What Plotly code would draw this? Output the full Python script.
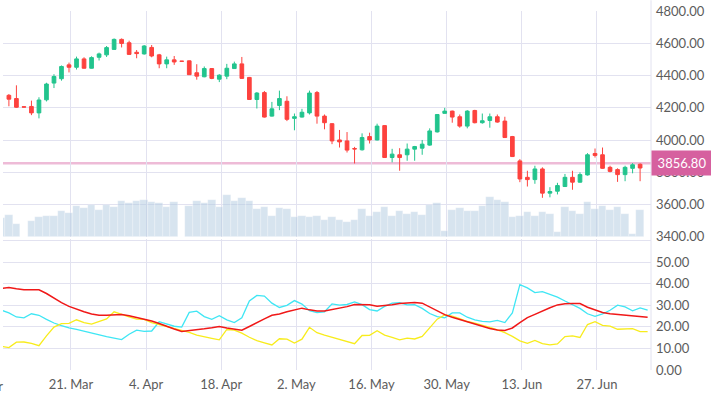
import numpy as np
import pandas as pd
import plotly.graph_objects as go

# ---------------- data ----------------
dates = pd.bdate_range("2022-03-08", "2022-07-06")          # trading-day grid
pos = np.arange(len(dates)) - 1                              # -1 .. 85

open_ = [4278,4258,4207,4209,4169,4250,4354,4381,4467,4452, 4504,4446,4514,4529,4563,4625,4604,4545,4535,4575,
         4529,4473,4498,4490,4492,4418,4393,4444,4378,4397, 4444,4473,4389,4252,4295,4149,4215,4241,4135,4143,
         4169,4295,4149,4102,4001,3995,3948,3940,4022,4001, 4090,3892,3909,3909,3944,3950,3969,4051,4166,4180,
         4145,4087,4184,4108,4122,4145,4118,4022,3871,3769, 3755,3821,3671,3683,3712,3769,3739,3784,3917,3909,
         3831,3817,3786,3825,3850]
high = [4286,4340,4208,4245,4266,4356,4409,4463,4481,4518, 4514,4520,4543,4584,4631,4631,4617,4559,4590,4590,
        4535,4518,4522,4491,4494,4471,4457,4447,4409,4473, 4487,4516,4392,4298,4305,4237,4307,4272,4165,4194,
        4307,4305,4159,4105,4063,4050,3958,4042,4046,4102, 4092,3946,3950,3979,3964,4001,4073,4161,4200,4183,
        4159,4186,4188,4165,4165,4159,4145,4026,3882,3810, 3841,3831,3708,3735,3790,3810,3800,3919,3948,3954,
        3841,3825,3841,3857,3856]
low = [4210,4200,4204,4155,4135,4240,4323,4369,4420,4438, 4444,4444,4494,4516,4560,4575,4529,4508,4530,4514,
       4446,4446,4467,4488,4404,4375,4390,4378,4360,4378, 4442,4380,4250,4196,4140,4146,4186,4118,4061,4140,
       4159,4102,4067,3975,3954,3923,3855,3935,3979,3998, 3889,3862,3810,3872,3872,3909,3965,4047,4165,4108,
       4077,4073,4104,4102,4077,4108,4013,3895,3739,3712, 3729,3642,3645,3663,3710,3692,3736,3780,3892,3822,
       3800,3741,3745,3794,3745]
close = [4254,4204,4205,4169,4249,4348,4395,4457,4452,4504, 4446,4512,4535,4574,4625,4600,4532,4537,4584,4522,
         4473,4498,4485,4489,4406,4397,4444,4383,4403,4446, 4473,4383,4252,4292,4143,4194,4258,4129,4145,4173,
         4292,4149,4108,3995,3989,3938,3945,4016,4001,4087, 3892,3913,3892,3944,3960,3975,4057,4159,4180,4143,
         4087,4180,4108,4120,4145,4112,4016,3898,3759,3755, 3821,3671,3681,3718,3769,3739,3786,3909,3905,3825,
         3806,3786,3831,3847,3827]

volume = [1680,2010,1200,None,1410,1800,1920,1920,2310,2130, 2790,2610,2880,2400,2880,2670,3210,3060,3210,3300,
          3120,3030,2670,3120,None,2820,3210,3030,3300,2670, 3840,3210,3540,3210,2490,2670,1890,2610,2490,1800,
          1920,1800,1920,1500,1800,1500,1380,1500,2490,1890, 2220,2700,1890,2310,2100,2220,2010,2910,3030,510,
          2400,2610,2310,2310,2790,3630,3300,3120,1800,1920, 2220,1920,2220,2100,420,2700,2310,2100,3120,2490,
          2790,2400,2700,2100,300,2400]

adx = [37.8,38.3,37.7,37.2,37.2,37.2,35.5,33.2,31.3,29.5, 28.2,27.0,26.0,25.4,25.4,25.4,25.7,25.2,24.4,23.7,
       22.7,21.6,20.2,19.0,17.9,18.2,18.6,19.1,19.6,20.2, 19.5,18.9,18.5,20.2,21.8,23.7,25.4,26.0,27.0,27.9,
       28.7,27.9,27.4,27.4,28.0,28.6,29.4,30.4,30.5,30.3, 29.6,29.8,30.3,30.8,31.2,31.3,31.0,29.2,27.4,25.7,
       24.5,23.4,22.2,21.3,20.3,19.3,18.6,18.3,19.5,22.0, 24.3,25.8,27.5,28.9,30.2,30.7,30.8,30.8,29.1,27.8,
       26.7,26.1,25.8,25.5,25.1,24.7,24.5]
plus_di = [27.8,26.5,24.6,24.2,26.1,25.4,23.5,21.8,20.6,19.5, 18.9,18.0,17.0,16.2,15.5,14.8,14.1,16.6,18.5,17.9,
           18.1,22.4,21.2,20.3,19.9,26.7,27.3,24.8,23.5,25.2, 23.3,22.0,24.2,32.0,34.6,34.3,31.0,29.0,30.0,32.2,
           30.6,27.5,26.6,27.0,30.7,30.1,30.4,31.6,30.3,28.0, 27.4,29.5,31.0,31.2,30.2,30.3,28.6,26.2,24.8,24.2,
           26.5,26.5,24.5,23.3,22.6,22.3,23.0,22.0,26.5,39.6, 38.1,35.9,36.4,35.1,33.8,32.0,30.2,28.6,26.1,24.9,
           26.0,27.7,30.1,29.3,27.5,28.8,27.8]
minus_di = [11.0,10.4,12.9,13.0,12.4,11.3,15.8,19.9,21.5,21.6, 23.3,22.0,21.3,22.4,23.7,27.0,26.0,24.7,23.6,23.5,
            22.0,21.1,20.2,19.4,18.5,17.4,16.2,15.3,14.7,14.0, 18.8,18.5,17.1,15.2,13.6,12.6,11.6,14.5,14.3,12.5,
            14.3,19.8,17.3,16.2,15.2,14.0,13.0,12.2,16.0,16.1, 18.2,16.2,15.1,14.0,14.8,14.4,15.6,19.5,23.6,25.6,
            25.0,23.8,22.5,21.7,20.8,19.8,18.6,17.3,15.6,13.5, 12.4,13.7,12.2,11.7,12.1,15.5,15.8,15.1,21.1,22.4,
            20.7,20.4,18.9,18.9,19.2,17.8,17.8]

last_price = 3856.80

tick_dates = ["2022-03-21", "2022-04-04", "2022-04-18", "2022-05-02",
              "2022-05-16", "2022-05-30", "2022-06-13", "2022-06-27"]
tick_labels = ["21. Mar", "4. Apr", "18. Apr", "2. May", "16. May", "30. May", "13. Jun", "27. Jun"]
first_label = "7. Mar"

price_ticks = [3400, 3600, 3800, 4000, 4200, 4400, 4600, 4800]
ind_ticks = [0, 10, 20, 30, 40, 50, 60]

# ---------------- positions ----------------
candle_x = pos[1:1 + len(close)]
vol_x = pos[:len(volume)]
ind_x = pos[:len(adx)]
TICK_SHIFT = 0.26
tickvals = [float(pos[dates.get_loc(pd.Timestamp(d))]) + TICK_SHIFT for d in tick_dates]

GRID = "#e2e2f0"
LABEL = "#5c5c5c"
FONT = "Lato"
XR = [-0.785, 85.45]

fig = go.Figure()
fig.add_trace(go.Bar(x=vol_x, y=volume, xaxis="x", yaxis="y", width=1.0,
                     marker=dict(color="rgba(176,201,224,0.5)",
                                 line=dict(color="rgba(255,255,255,0.5)", width=0.5)),
                     hoverinfo="skip"))
fig.add_trace(go.Candlestick(x=candle_x, open=open_, high=high, low=low, close=close,
                             xaxis="x", yaxis="y3", whiskerwidth=0,
                             increasing=dict(line=dict(color="#22c48d", width=1), fillcolor="#22c48d"),
                             decreasing=dict(line=dict(color="#fd423e", width=1), fillcolor="#fd423e")))
fig.add_trace(go.Scatter(x=ind_x, y=plus_di, xaxis="x2", yaxis="y2", mode="lines",
                         line=dict(color="#3fe6f4", width=1.3)))
fig.add_trace(go.Scatter(x=ind_x, y=minus_di, xaxis="x2", yaxis="y2", mode="lines",
                         line=dict(color="#f8ec1c", width=1.3)))
fig.add_trace(go.Scatter(x=ind_x, y=adx, xaxis="x2", yaxis="y2", mode="lines",
                         line=dict(color="#f01818", width=1.5)))

axis_font = dict(family=FONT, size=13, color=LABEL)
fig.update_layout(
    width=711, height=395,
    margin=dict(l=3, r=60, t=9, b=24),
    paper_bgcolor="white", plot_bgcolor="white",
    showlegend=False,
    bargap=0,
    xaxis=dict(domain=[0, 1], anchor="y", range=XR, tickvals=tickvals, showticklabels=False,
               showgrid=True, gridcolor=GRID, gridwidth=1, zeroline=False, ticks="",
               rangeslider=dict(visible=False), fixedrange=True),
    xaxis2=dict(domain=[0, 1], anchor="y2", range=XR, tickvals=tickvals, ticktext=tick_labels,
                showgrid=True, gridcolor=GRID, gridwidth=1, zeroline=False, ticks="",
                tickfont=axis_font, ticklabelstandoff=5, fixedrange=True),
    yaxis=dict(domain=[0.371, 1.0], anchor="x", range=[0, 20493], visible=False, fixedrange=True),
    yaxis3=dict(overlaying="y", anchor="x", side="right", range=[3400, 4801.2],
                tickvals=price_ticks, ticktext=[f"{v:.2f}" for v in price_ticks],
                showgrid=True, gridcolor=GRID, gridwidth=1, zeroline=False, ticks="",
                tickfont=axis_font, ticklabelstandoff=4, fixedrange=True),
    yaxis2=dict(domain=[0, 0.3638], anchor="x2", side="right", range=[0, 60.6],
                tickvals=ind_ticks, ticktext=[f"{v:.2f}" if v < 60 else "" for v in ind_ticks],
                showgrid=True, gridcolor=GRID, gridwidth=1, zeroline=False, ticks="",
                tickfont=axis_font, ticklabelstandoff=4, fixedrange=True),
    shapes=[
        dict(type="line", xref="paper", yref="y3", x0=0, x1=1, y0=last_price, y1=last_price,
             line=dict(color="rgba(222,120,176,0.5)", width=2.5), layer="below"),
        dict(type="line", xref="paper", yref="paper", x0=1, x1=1, y0=0, y1=1.03,
             line=dict(color=GRID, width=1)),
    ],
    annotations=[
        dict(xref="paper", yref="y3", x=1, y=last_price, xanchor="left", yanchor="middle",
             text=f"{last_price:.2f}", showarrow=False, bgcolor="#d6609f", width=60, height=24,
             borderpad=0, font=dict(family=FONT, size=13, color="white"), align="center"),
        dict(xref="paper", yref="paper", x=0.0025, y=0, xanchor="right", yanchor="top", yshift=-6,
             text=first_label, showarrow=False, font=axis_font),
    ],
)

fig.write_html("out.html", config={"displayModeBar": False},
               post_script="document.body.style.margin='0';document.body.style.overflow='hidden';")
